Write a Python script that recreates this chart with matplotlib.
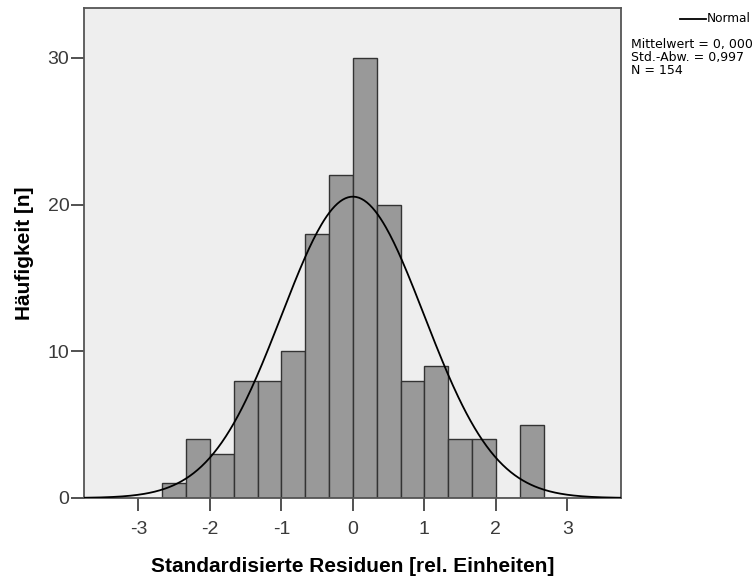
import numpy as np
import matplotlib
matplotlib.use("Agg")
import matplotlib.pyplot as plt

plt.rcParams['font.family'] = ['Liberation Sans', 'DejaVu Sans']

# Histogram of standardized residuals (bin width 1/3)
bin_edges = [-8/3, -7/3, -2, -5/3, -4/3, -1, -2/3, -1/3, 0,
             1/3, 2/3, 1, 4/3, 5/3, 2, 7/3, 8/3]
counts = [1, 4, 3, 8, 8, 10, 18, 22, 30, 20, 8, 9, 4, 4, 0, 5]
mean_val = 0.000
std_val = 0.997
n_val = 154
x_ticks = [-3, -2, -1, 0, 1, 2, 3]
y_ticks = [0, 10, 20, 30]

fig = plt.figure(figsize=(7.52, 5.81), dpi=100)
W, H = 752, 581
ax = fig.add_axes([84 / W, (H - 498) / H, (621 - 84) / W, (498 - 8) / H])
ax.set_facecolor('#eeeeee')

edges = np.array(bin_edges)
widths = np.diff(edges)
ax.bar(edges[:-1], counts, width=widths, align='edge',
       color='#999999', edgecolor='#333333', linewidth=1.0, zorder=2)

# Fitted normal curve scaled to counts
bw = widths[0]
xs = np.linspace(-3.75, 3.75, 400)
ys = n_val * bw * np.exp(-0.5 * ((xs - mean_val) / std_val) ** 2) / (std_val * np.sqrt(2 * np.pi))
ax.plot(xs, ys, color='black', linewidth=1.3, zorder=3)

ax.set_xlim(-3.76, 3.75)
ax.set_ylim(0, 33.4)
ax.set_xticks(x_ticks)
ax.set_xticklabels([str(t) for t in x_ticks])
ax.set_yticks(y_ticks)
ax.tick_params(axis='both', direction='out', length=9.5, width=1.2,
               color='#333333', labelcolor='#3a3a3a', labelsize=14, pad=1)
ax.tick_params(axis='x', pad=7)
for s in ax.spines.values():
    s.set_color('#555555')
    s.set_linewidth(1.3)

ax.set_xlabel('Standardisierte Residuen [rel. Einheiten]', fontsize=15,
              fontweight='bold', labelpad=14)
ax.set_ylabel('Häufigkeit [n]', fontsize=15, fontweight='bold', labelpad=10)

# Legend and summary statistics at upper right
fig.lines.append(plt.Line2D([680 / W, 706 / W], [1 - 19 / H, 1 - 19 / H],
                            transform=fig.transFigure, color='black', linewidth=1.3))
fig.text(707 / W, 1 - 19 / H, 'Normal', fontsize=8.7, va='center', ha='left',
         family='DejaVu Sans')
mean_txt = f'{mean_val:.3f}'.replace('.', ', ')
std_txt = f'{std_val:.3f}'.replace('.', ',')
stats = f'Mittelwert = {mean_txt}\nStd.-Abw. = {std_txt}\nN = {n_val}'
fig.text(631 / W, 1 - 38 / H, stats, fontsize=9, va='top', ha='left',
         linespacing=1.0, family='DejaVu Sans')

fig.savefig('out.png', dpi=100, facecolor='white')
